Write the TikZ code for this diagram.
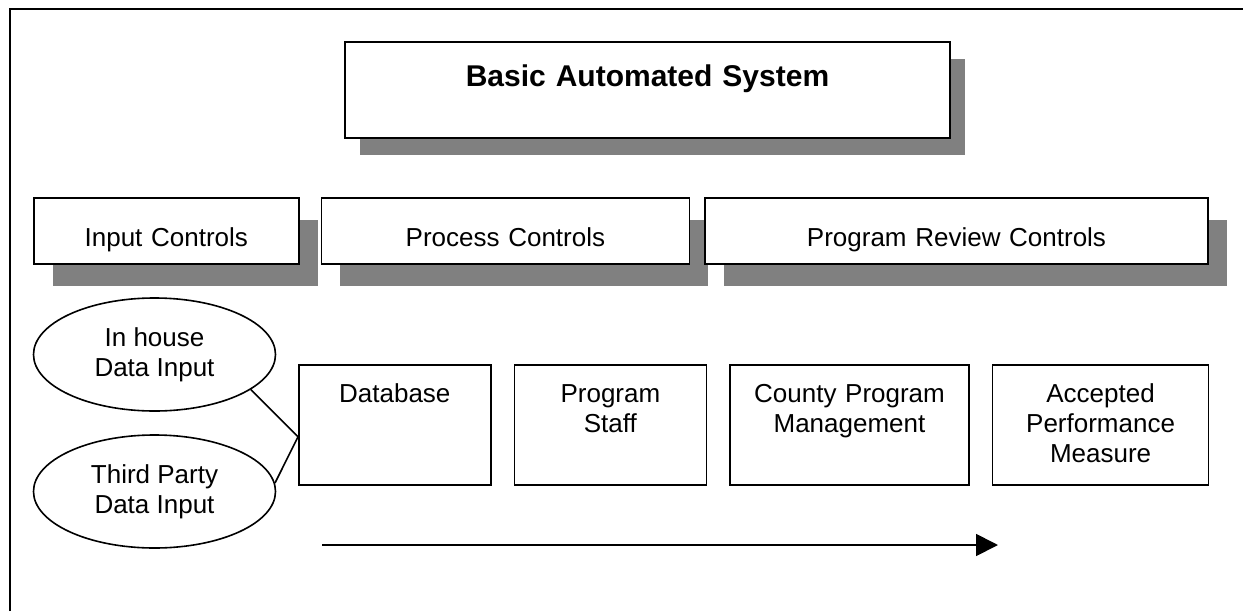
\documentclass[tikz,border=0pt]{standalone}
\usepackage{fontspec}
\setmainfont{Liberation Sans}
\usetikzlibrary{positioning, arrows.meta, shapes.geometric, shadows}

\begin{document}
\begin{tikzpicture}[
  x=0.5pt, y=-0.5pt,
  font=\fontsize{13}{15}\selectfont,
  flat shadow/.style={drop shadow={shadow xshift=#1, shadow yshift=-1.15*#1, fill=black!50, opacity=1}},
  titlebox/.style={draw, fill=white, line width=0.8pt, align=center, inner sep=0pt,
    text height=22pt, text depth=26pt, font=\fontsize{15}{18}\selectfont\bfseries, flat shadow=7.5pt},
  head/.style={draw, fill=white, line width=0.8pt, align=center, inner sep=0pt,
    text height=24.5pt, text depth=8.5pt, flat shadow=9.5pt},
  stage/.style={draw, line width=0.8pt, align=center, inner sep=0pt,
    text height=19pt, text depth=41pt},
  source/.style={draw, ellipse, line width=0.8pt, align=center, inner sep=0pt,
    minimum width=121pt, minimum height=56.5pt},
  link/.style={line width=0.8pt},
]
\useasboundingbox (0,0) rectangle (1243,611);

% --- outer frame (only top and left edges show)
\draw[line width=1.2pt] (10,611) -- (10,9) -- (1243,9);

% --- title
\node[titlebox, text width=302.5pt] (sys) at (647.5,90) {Basic Automated System};

% --- control headings
\node[head, text width=132.5pt, anchor=north west] (inctl) at (33,197) {Input Controls};
\node[head, text width=184pt, right=10.5pt of inctl] (prctl) {Process Controls};
\node[head, text width=251.5pt, right=7pt of prctl] (rvctl) {Program Review Controls};

% --- data sources
\node[source] (inh) at (154.5,354.5) {In house\\Data Input};
\node[source] (thp) at (154.5,491.5) {Third Party\\Data Input};

% --- stages, left to right
\node[stage, text width=96pt, anchor=north west] (db) at (298,364) {Database};
\node[stage, text width=96pt, right=11pt of db] (staff) {Program\\Staff};
\node[stage, text width=119.5pt, right=11pt of staff] (county) {County Program\\Management};
\node[stage, text width=108pt, right=11pt of county] (apm) {Accepted\\Performance\\Measure};

% --- sources feed the database
\coordinate (dbin) at ([yshift=-6pt]db.west);
\draw[link] (inh.-20) -- (dbin);
\draw[link] (thp.4) -- (dbin);

% --- flow arrow
\coordinate (flow0) at (322,545);
\coordinate (flow1) at (998,545);
\draw[line width=0.9pt, -{Triangle[length=11pt,width=11pt]}] (flow0) -- (flow1);

\end{tikzpicture}
\end{document}
